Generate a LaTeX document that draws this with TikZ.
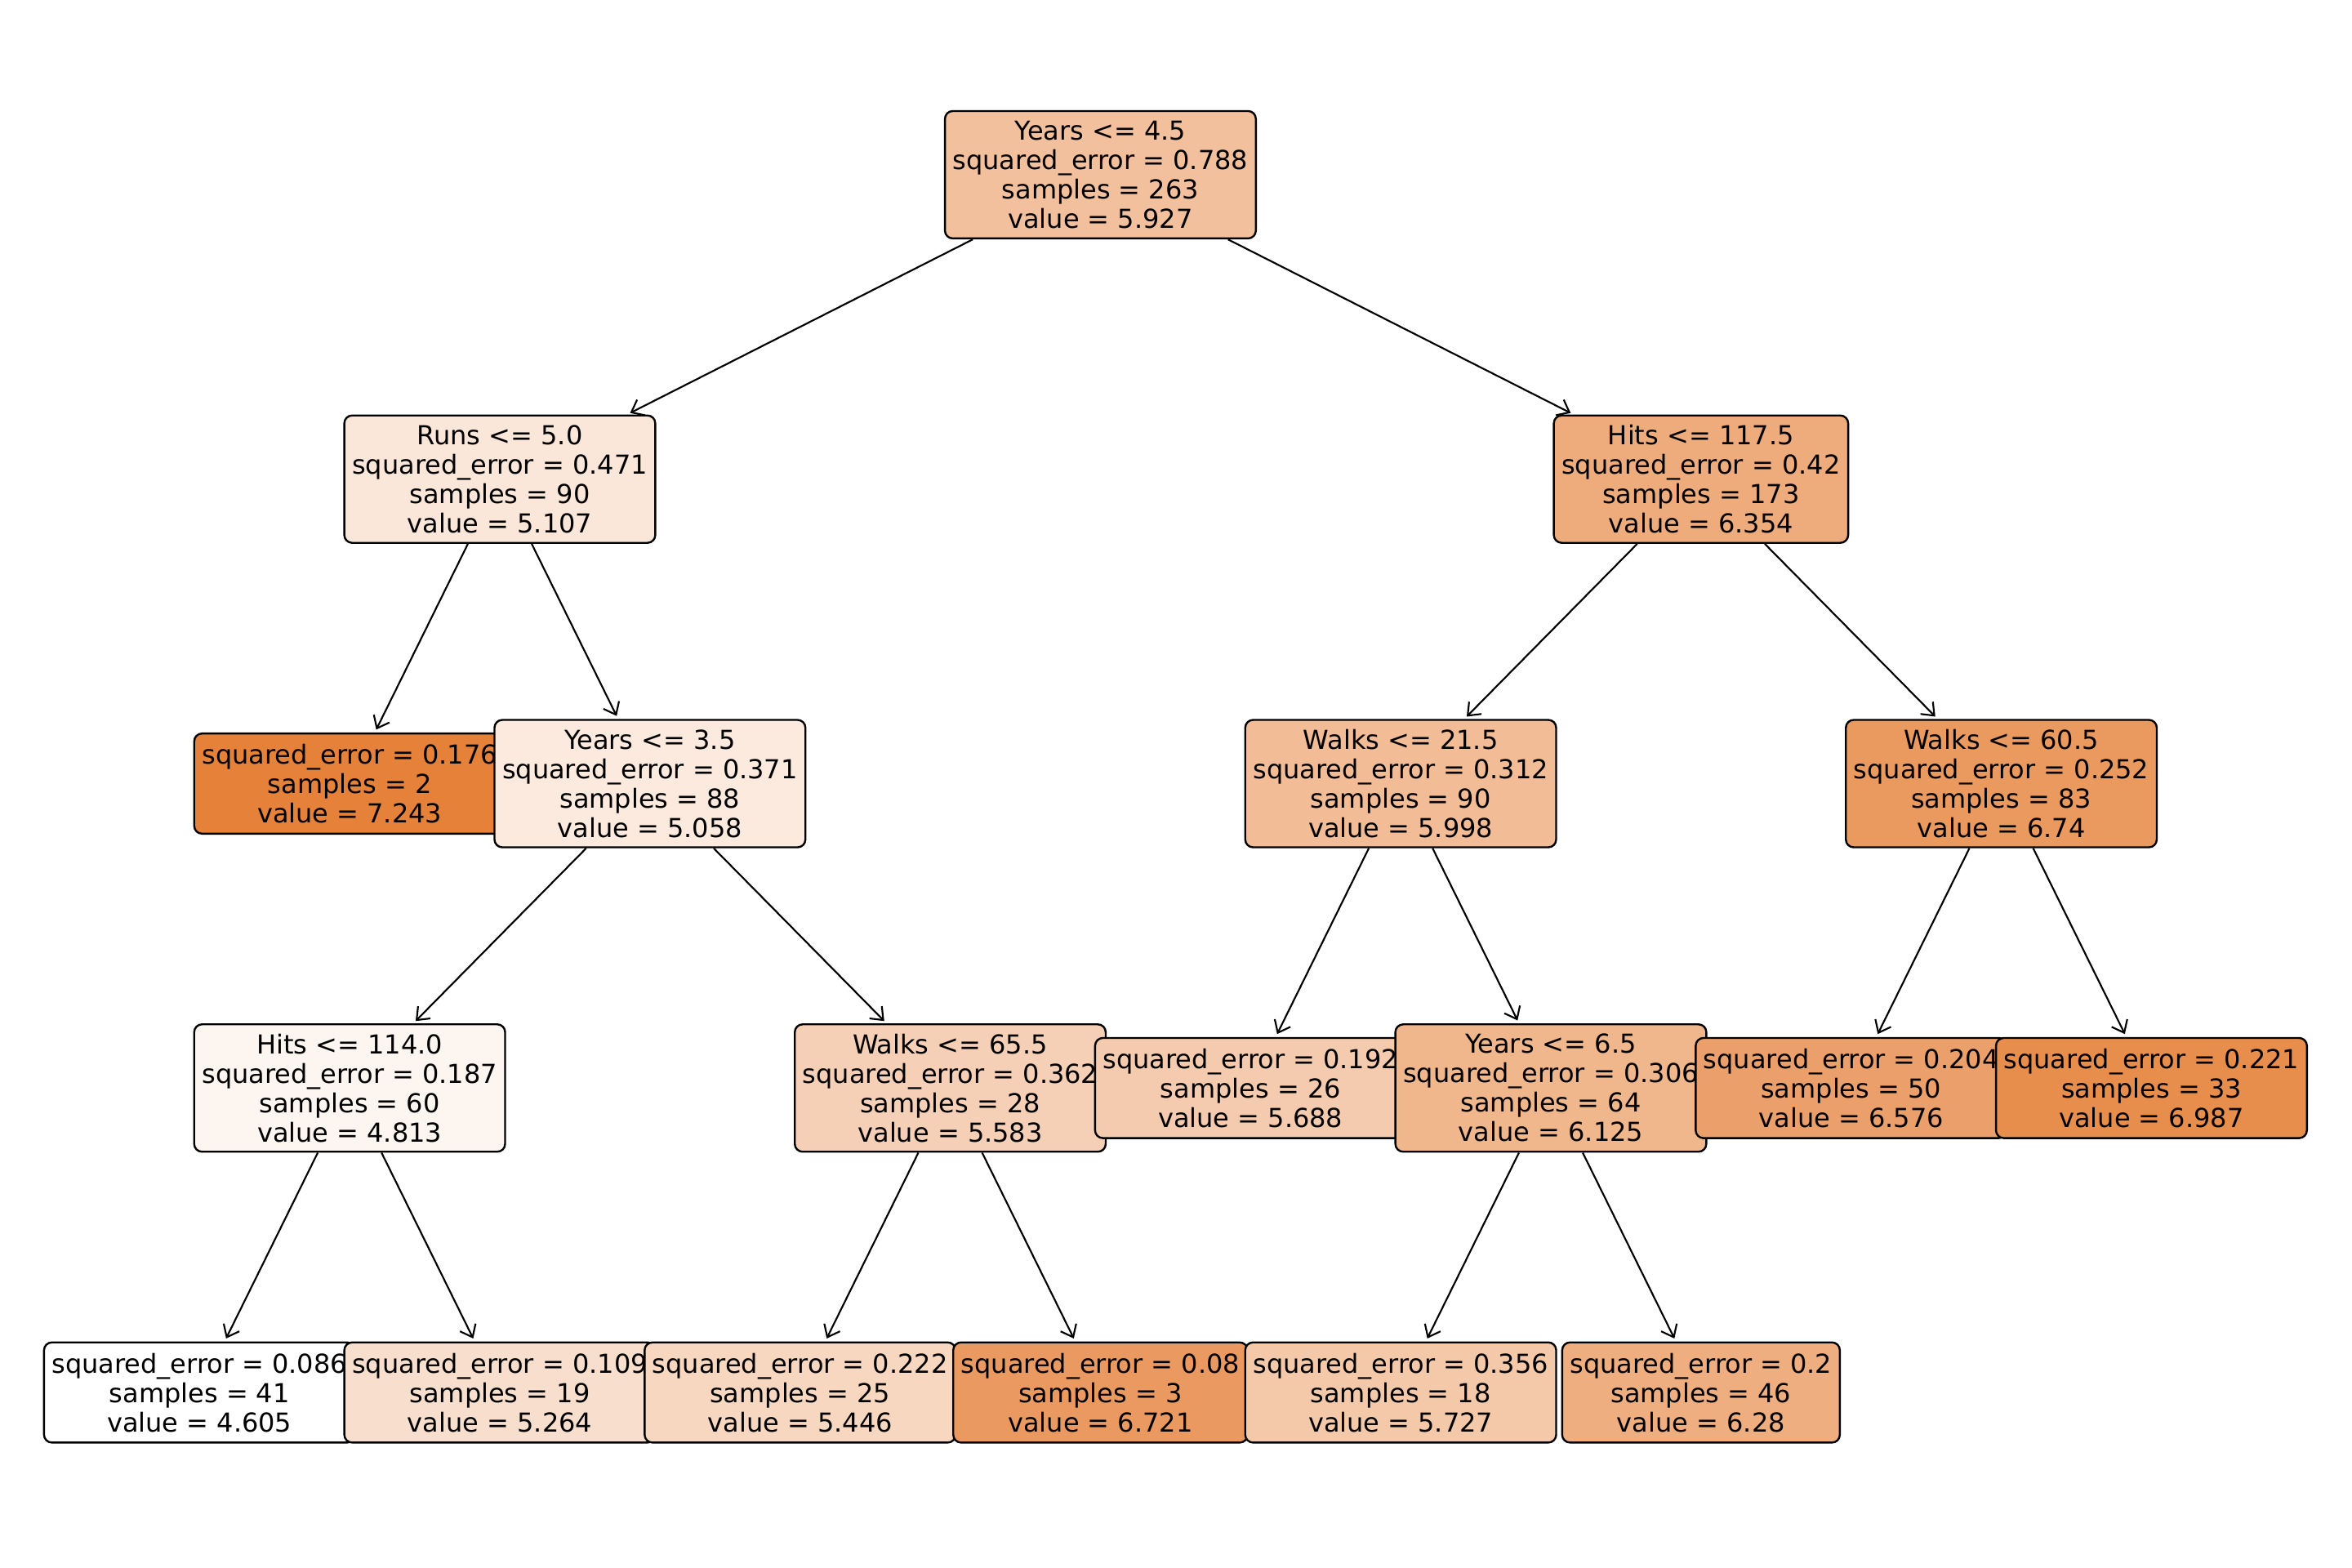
\documentclass[tikz,border=0pt]{standalone}
\usepackage{fontspec}
\setmainfont{DejaVu Sans}
\usetikzlibrary{arrows.meta}

\definecolor{treeorange}{RGB}{229,129,57}

\tikzset{
	splitnode/.style={draw=black, line width=0.9pt, rounded corners=3.6pt, align=center,
		inner xsep=3.6pt, inner ysep=2pt, minimum height=58.5pt,
		font=\fontsize{12}{13.5}\selectfont},
	leafnode/.style={splitnode, minimum height=46pt},
}

\begin{document}
\begin{tikzpicture}[x=68.95pt, y=-139.8pt, >={Straight Barb[length=5pt, width=8pt]}]
			\useasboundingbox (-1.3287, -0.5739) rectangle (14.3357, 4.5755);
			%% left part of the tree
			\node[splitnode, fill=treeorange!50!white] (years45) at (6, 0) {Years <= 4.5\\squared\_error = 0.788\\samples = 263\\value = 5.927};
			\node[splitnode, fill=treeorange!19!white] (runs50) at (2, 1) {Runs <= 5.0\\squared\_error = 0.471\\samples = 90\\value = 5.107};
			\node[leafnode, fill=treeorange] (leaf7243) at (1, 2) {squared\_error = 0.176\\samples = 2\\value = 7.243};
			\node[splitnode, fill=treeorange!17!white] (years35) at (3, 2) {Years <= 3.5\\squared\_error = 0.371\\samples = 88\\value = 5.058};
			\node[splitnode, fill=treeorange!8!white] (hits1140) at (1, 3) {Hits <= 114.0\\squared\_error = 0.187\\samples = 60\\value = 4.813};
			\node[leafnode, fill=white] (leaf4605) at (0, 4) {squared\_error = 0.086\\samples = 41\\value = 4.605};
			\node[leafnode, fill=treeorange!25!white] (leaf5264) at (2, 4) {squared\_error = 0.109\\samples = 19\\value = 5.264};
			\node[splitnode, fill=treeorange!37!white] (walks655) at (5, 3) {Walks <= 65.5\\squared\_error = 0.362\\samples = 28\\value = 5.583};
			\node[leafnode, fill=treeorange!32!white] (leaf5446) at (4, 4) {squared\_error = 0.222\\samples = 25\\value = 5.446};
			\node[leafnode, fill=treeorange!80!white] (leaf6721) at (6, 4) {squared\_error = 0.08\\samples = 3\\value = 6.721};
			%% right part of the tree
			\node[splitnode, fill=treeorange!66!white] (hits1175) at (10, 1) {Hits <= 117.5\\squared\_error = 0.42\\samples = 173\\value = 6.354};
			\node[splitnode, fill=treeorange!53!white] (walks215) at (8, 2) {Walks <= 21.5\\squared\_error = 0.312\\samples = 90\\value = 5.998};
			\node[leafnode, fill=treeorange!41!white] (leaf5688) at (7, 3) {squared\_error = 0.192\\samples = 26\\value = 5.688};
			\node[splitnode, fill=treeorange!58!white] (years65) at (9, 3) {Years <= 6.5\\squared\_error = 0.306\\samples = 64\\value = 6.125};
			\node[leafnode, fill=treeorange!43!white] (leaf5727) at (8, 4) {squared\_error = 0.356\\samples = 18\\value = 5.727};
			\node[leafnode, fill=treeorange!64!white] (leaf6280) at (10, 4) {squared\_error = 0.2\\samples = 46\\value = 6.28};
			\node[splitnode, fill=treeorange!81!white] (walks605) at (12, 2) {Walks <= 60.5\\squared\_error = 0.252\\samples = 83\\value = 6.74};
			\node[leafnode, fill=treeorange!75!white] (leaf6576) at (11, 3) {squared\_error = 0.204\\samples = 50\\value = 6.576};
			\node[leafnode, fill=treeorange!90!white] (leaf6987) at (13, 3) {squared\_error = 0.221\\samples = 33\\value = 6.987};
			%% edges
			\foreach \from/\to in {years45/runs50, runs50/leaf7243, runs50/years35, years35/hits1140,
				hits1140/leaf4605, hits1140/leaf5264, years35/walks655, walks655/leaf5446, walks655/leaf6721,
				years45/hits1175, hits1175/walks215, walks215/leaf5688, walks215/years65, years65/leaf5727,
				years65/leaf6280, hits1175/walks605, walks605/leaf6576, walks605/leaf6987}
				\draw[->, line width=0.8pt, shorten >=1.5pt] (\from) -- (\to);
		\end{tikzpicture}
\end{document}
